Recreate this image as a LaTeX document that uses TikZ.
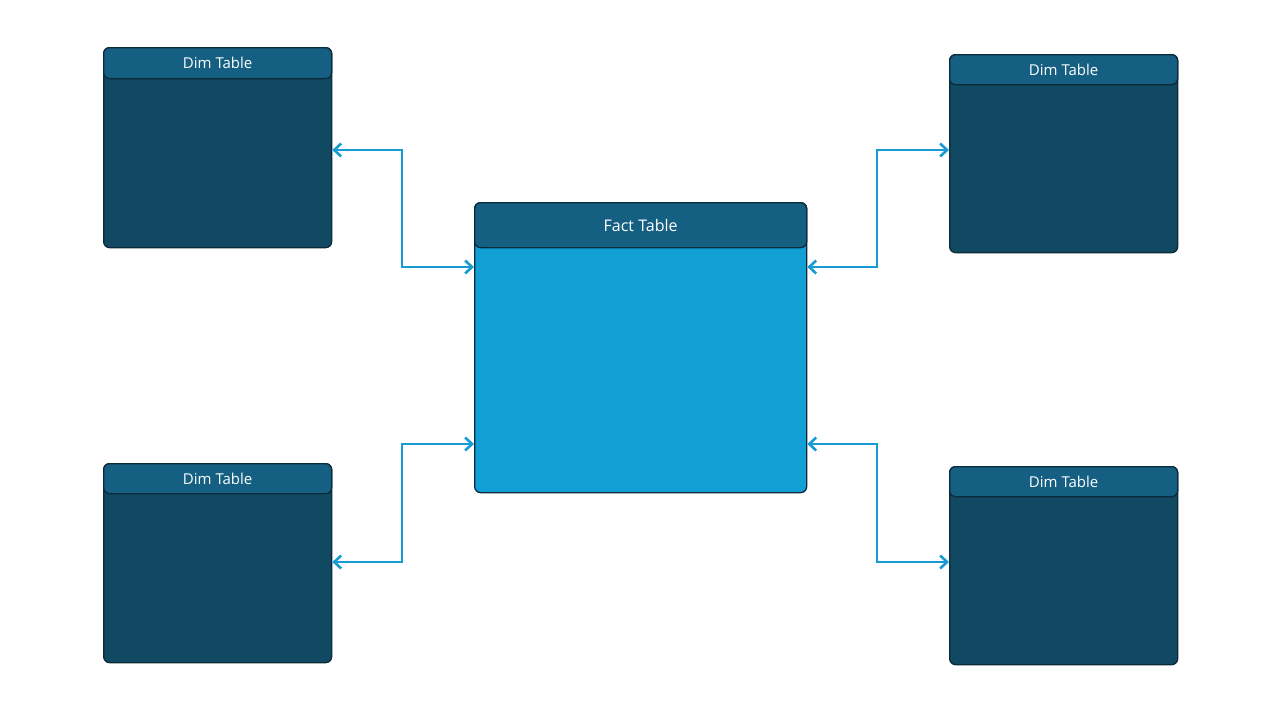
\documentclass[tikz,border=0pt]{standalone}
\usepackage{fontspec}
\setmainfont{Open Sans}
\usetikzlibrary{calc,arrows.meta}
\definecolor{dimfill}{HTML}{114862}
\definecolor{hdr}{HTML}{155F82}
\definecolor{factfill}{HTML}{119FD6}
\definecolor{edge}{HTML}{0B2A3A}
\definecolor{conn}{HTML}{169BD5}
\tikzset{
  body/.style={draw=edge,line width=1.3pt,rounded corners=6pt,inner sep=0pt,anchor=north west},
  head/.style={draw=edge,line width=1.3pt,rounded corners=6pt,fill=hdr,inner sep=0pt,anchor=north west,text=white,font=\fontsize{15}{15}\selectfont},
  link/.style={draw=conn,line width=2.6pt,{Straight Barb[length=7pt,width=13pt]}-{Straight Barb[length=7pt,width=13pt]}}
}
\begin{document}
\begin{tikzpicture}[x=1pt,y=-1pt]
\useasboundingbox (0,0) rectangle (1280,720);
% dim tables
\node[body,fill=dimfill,minimum width=228pt,minimum height=200pt] (tl) at (103,47) {};
\node[head,minimum width=228pt,minimum height=31pt] (tlh) at (103,47) {Dim Table};
\node[body,fill=dimfill,minimum width=228pt,minimum height=198pt] (tr) at (949,54) {};
\node[head,minimum width=228pt,minimum height=30pt] (trh) at (949,54) {Dim Table};
\node[body,fill=dimfill,minimum width=228pt,minimum height=199pt] (bl) at (103,463) {};
\node[head,minimum width=228pt,minimum height=30pt] (blh) at (103,463) {Dim Table};
\node[body,fill=dimfill,minimum width=228pt,minimum height=198pt] (br) at (949,466) {};
\node[head,minimum width=228pt,minimum height=30pt] (brh) at (949,466) {Dim Table};
% fact
\node[body,fill=factfill,minimum width=332pt,minimum height=290pt] (f) at (474,202) {};
\node[head,minimum width=332pt,minimum height=45pt,font=\fontsize{16}{16}\selectfont] (fh) at (474,202) {Fact Table};
% connectors
\coordinate (fl1) at ($(f.north west)+(0,65)$);
\coordinate (fl2) at ($(f.north west)+(0,242)$);
\coordinate (fr1) at ($(f.north east)+(0,65)$);
\coordinate (fr2) at ($(f.north east)+(0,242)$);
\coordinate (tle) at ($(tl.north east)+(0,103)$);
\coordinate (ble) at ($(bl.north east)+(0,99)$);
\coordinate (trw) at ($(tr.north west)+(0,96)$);
\coordinate (brw) at ($(br.north west)+(0,96)$);
\draw[link] (tle) -- (402,150) -- (402,267) -- (fl1);
\draw[link] (ble) -- (402,562) -- (402,444) -- (fl2);
\draw[link] (fr1) -- (877,267) -- (877,150) -- (trw);
\draw[link] (fr2) -- (877,444) -- (877,562) -- (brw);
\end{tikzpicture}
\end{document}
